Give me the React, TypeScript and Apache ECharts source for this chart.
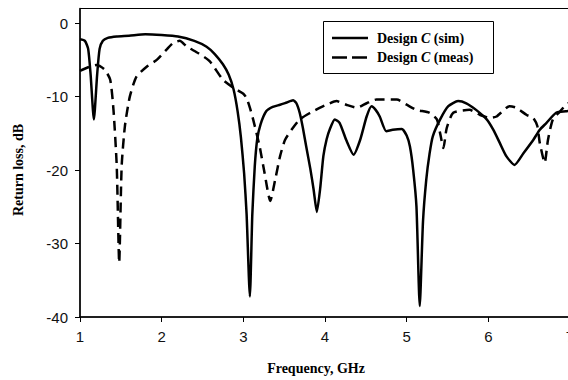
import React, { useEffect, useRef } from "react";
import * as echarts from "echarts";

const simFreq = [1.0, 1.06, 1.1, 1.13, 1.17, 1.21, 1.24, 1.28, 1.34, 1.45, 1.6, 1.8, 2.0, 2.2, 2.4, 2.55, 2.65, 2.75, 2.82, 2.88, 2.93, 2.97, 3.01, 3.04, 3.08, 3.11, 3.14, 3.17, 3.21, 3.28, 3.36, 3.45, 3.53, 3.61, 3.65, 3.69, 3.73, 3.77, 3.82, 3.86, 3.9, 3.94, 3.98, 4.02, 4.06, 4.12, 4.18, 4.26, 4.35, 4.43, 4.51, 4.57, 4.62, 4.67, 4.75, 4.83, 4.94, 5.0, 5.04, 5.08, 5.12, 5.16, 5.2, 5.24, 5.28, 5.32, 5.41, 5.51, 5.63, 5.73, 5.85, 5.98, 6.06, 6.14, 6.22, 6.32, 6.43, 6.55, 6.63, 6.71, 6.83, 6.95, 7.0];
const simLoss = [-2.2, -2.4, -3.5, -7, -13.1, -7, -3.5, -2.4, -2.0, -1.8, -1.7, -1.5, -1.6, -1.8, -2.4, -3.2, -4.2, -5.6, -7.0, -9.0, -12, -15.5, -20.5, -26, -37.2, -26, -19.5, -15.8, -13.8, -12, -11.4, -11.1, -10.8, -10.5, -10.9, -12.2, -14.3, -16.8, -19.8, -22.6, -25.7, -22.6, -18.1, -15.8, -14.4, -13.1, -13.6, -15.9, -17.9, -15.9, -12.7, -11.3, -11.8, -12.7, -14.7, -14.5, -14.4, -15.3, -16.8, -20, -25, -38.5, -27, -21.3, -17.8, -15.4, -13.1, -11.3, -10.6, -10.9, -11.8, -13.1, -14.5, -16.3, -18.1, -19.3, -17.7, -15.9, -14.5, -13.6, -12.2, -12.0, -11.9];

const measFreq = [1.0, 1.1, 1.2, 1.3, 1.37, 1.41, 1.45, 1.48, 1.51, 1.55, 1.61, 1.69, 1.82, 1.94, 2.06, 2.14, 2.22, 2.31, 2.45, 2.59, 2.75, 2.88, 3.0, 3.04, 3.08, 3.12, 3.2, 3.26, 3.33, 3.39, 3.45, 3.51, 3.59, 3.69, 3.82, 3.94, 4.04, 4.14, 4.26, 4.39, 4.51, 4.63, 4.88, 5.0, 5.12, 5.28, 5.37, 5.41, 5.45, 5.49, 5.57, 5.77, 5.9, 6.02, 6.1, 6.26, 6.34, 6.47, 6.55, 6.6, 6.63, 6.69, 6.73, 6.79, 6.88, 6.95, 7.0];
const measLoss = [-6.5, -6.0, -5.7, -6.3, -7.7, -11.8, -19.5, -32.6, -19.5, -14, -10, -7.3, -5.9, -5.0, -3.6, -2.7, -2.4, -3.2, -4.1, -5.2, -7.7, -8.8, -9.6, -10.2, -11.5, -13.1, -16.8, -20.4, -24.2, -21.3, -18.1, -15.9, -14.5, -13.1, -12.2, -11.5, -11.0, -10.6, -11.1, -11.5, -10.9, -10.4, -10.4, -11.1, -11.8, -12.2, -13.1, -15, -17.0, -14.3, -12.2, -11.8, -12.5, -12.9, -12.7, -11.3, -11.5, -12.5, -12.9, -14, -16.3, -19, -15.9, -13.1, -12.0, -11.1, -10.8];

const yTicks = [-40, -30, -20, -10, 0];
const seriesNames = ["Design C (sim)", "Design C (meas)"];

const zip = (a: number[], b: number[]) => a.map((v, i) => [v, b[i]]);

export default function App() {
  const ref = useRef<HTMLDivElement>(null);
  useEffect(() => {
    document.body.style.margin = "0";
    const chart = echarts.init(ref.current!, null, { renderer: "svg" });
    const serif = "'Liberation Serif', 'Times New Roman', serif";
    const sans = "'Liberation Sans', Arial, sans-serif";
    const rich = {
      b: { fontFamily: serif, fontWeight: "bold", fontSize: 14, fill: "#000", color: "#000" },
      i: { fontFamily: serif, fontStyle: "italic", fontWeight: "bold", fontSize: 14, fill: "#000", color: "#000" },
    };
    const legendText = (name: string) => "{b|Design }{i|C}{b|" + name.replace("Design C", "") + "}";
    chart.setOption({
      animation: false,
      backgroundColor: "#fff",
      grid: {
        left: 80,
        top: 8.5,
        right: -2,
        bottom: 63,
        containLabel: false,
        outerBoundsMode: "none",
        show: true,
        borderColor: "#000",
        borderWidth: 1,
      },
      xAxis: {
        type: "value",
        min: 1,
        max: 7,
        interval: 1,
        axisLine: { onZero: false, lineStyle: { color: "#000", width: 1.5 } },
        axisTick: { show: true, length: 5, lineStyle: { color: "#000", width: 1 } },
        axisLabel: { fontFamily: sans, fontSize: 15, color: "#111", margin: 12 },
        splitLine: { show: false },
      },
      yAxis: {
        type: "value",
        min: -40,
        max: 2,
        interval: 10,
        axisLine: { show: true, onZero: false, lineStyle: { color: "#000", width: 1.5 } },
        axisTick: { show: true, length: 5, customValues: yTicks, lineStyle: { color: "#000", width: 1 } },
        axisLabel: { fontFamily: sans, fontSize: 15, color: "#111", margin: 12, customValues: yTicks },
        splitLine: { show: false },
      },
      graphic: [
        {
          type: "text",
          x: 316,
          y: 368,
          style: {
            text: "Frequency, GHz",
            font: "bold 14px " + serif,
            fill: "#000",
            align: "center",
            verticalAlign: "middle",
          },
        },
        {
          type: "text",
          x: 18,
          y: 170,
          rotation: Math.PI / 2,
          style: {
            text: "Return loss, dB",
            font: "bold 14px " + serif,
            fill: "#000",
            align: "center",
            verticalAlign: "middle",
          },
        },
        {
          type: "rect",
          z: 100,
          shape: { x: 323.5, y: 21.5, width: 170, height: 52 },
          style: { fill: "#fff", stroke: "#000", lineWidth: 1 },
        },
        {
          type: "line",
          z: 101,
          shape: { x1: 332, y1: 38, x2: 368, y2: 38 },
          style: { stroke: "#000", lineWidth: 2.5 },
        },
        {
          type: "line",
          z: 101,
          shape: { x1: 332, y1: 57.5, x2: 368, y2: 57.5 },
          style: { stroke: "#000", lineWidth: 2.5, lineDash: [15, 5] },
        },
        {
          type: "text",
          z: 101,
          x: 377,
          y: 38,
          style: { text: legendText(seriesNames[0]), rich, verticalAlign: "middle", align: "left" },
        },
        {
          type: "text",
          z: 101,
          x: 377,
          y: 57.5,
          style: { text: legendText(seriesNames[1]), rich, verticalAlign: "middle", align: "left" },
        },
      ],
      series: [
        {
          name: seriesNames[0],
          type: "line",
          data: zip(simFreq, simLoss),
          symbol: "none",
          smooth: 0.2,
          lineStyle: { color: "#000", width: 2.5 },
          itemStyle: { color: "#000" },
        },
        {
          name: seriesNames[1],
          type: "line",
          data: zip(measFreq, measLoss),
          symbol: "none",
          smooth: 0.2,
          lineStyle: { color: "#000", width: 2.5, type: [10, 6] },
          itemStyle: { color: "#000" },
        },
      ],
    });
    return () => chart.dispose();
  }, []);
  return <div ref={ref} style={{ width: 568, height: 380 }} />;
}
